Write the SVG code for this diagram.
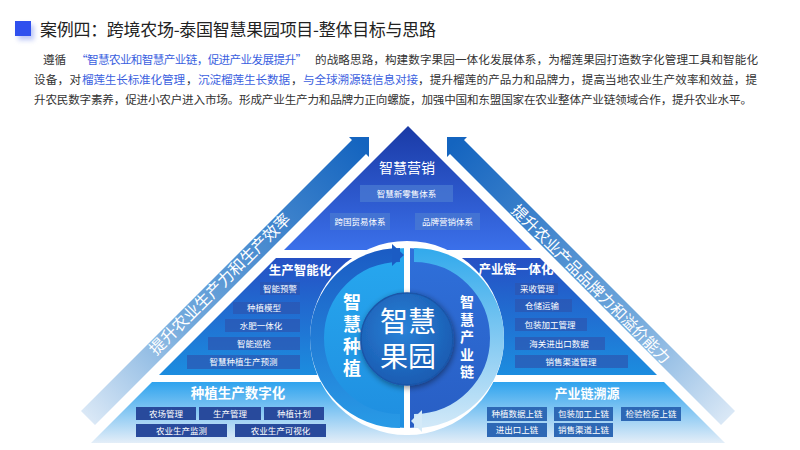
<svg xmlns="http://www.w3.org/2000/svg" width="800" height="450" viewBox="0 0 800 450">
<defs>
<style>
text{font-family:'Noto Sans CJK SC','Noto Sans',sans-serif;}
.p{font-size:11.6px;fill:#333;}
.pb{font-size:11.6px;fill:#3b5fe0;}
.bx{font-size:8.5px;fill:#fff;text-anchor:middle;}
.ttl{fill:#fff;font-weight:bold;text-anchor:middle;}
.vt{fill:#fff;font-weight:bold;text-anchor:middle;}
.boxT{fill:#4a7ad2;fill-opacity:0.75;}
.boxM{fill:#2c56b0;fill-opacity:0.7;}
.boxBL{fill:#284a9c;}
.boxBR{fill:#2d68b5;}
</style>
<linearGradient id="gTop" gradientUnits="userSpaceOnUse" x1="0" y1="126" x2="0" y2="250"><stop offset="0" stop-color="#1a3aa6"/><stop offset="1" stop-color="#3b70ea"/></linearGradient>
<linearGradient id="gMid" gradientUnits="userSpaceOnUse" x1="0" y1="258" x2="0" y2="375"><stop offset="0" stop-color="#2550c4"/><stop offset="1" stop-color="#1c8ddf"/></linearGradient>
<linearGradient id="gBot" gradientUnits="userSpaceOnUse" x1="0" y1="382" x2="0" y2="443"><stop offset="0" stop-color="#2ea3ee"/><stop offset="1" stop-color="#e4eef8"/></linearGradient>
<linearGradient id="gArr" gradientUnits="userSpaceOnUse" x1="88" y1="418" x2="365" y2="145"><stop offset="0" stop-color="#dae8f6"/><stop offset="0.35" stop-color="#72a9dc"/><stop offset="1" stop-color="#1464bf"/></linearGradient>
<linearGradient id="gLD" gradientUnits="userSpaceOnUse" x1="0" y1="248" x2="0" y2="428"><stop offset="0" stop-color="#27a8ef"/><stop offset="1" stop-color="#1f8ee0"/></linearGradient>
<linearGradient id="gRD" gradientUnits="userSpaceOnUse" x1="0" y1="248" x2="0" y2="428"><stop offset="0" stop-color="#2f70da"/><stop offset="1" stop-color="#285ec4"/></linearGradient>
<linearGradient id="gLA" gradientUnits="userSpaceOnUse" x1="0" y1="250" x2="0" y2="425"><stop offset="0" stop-color="#1b5cc4"/><stop offset="1" stop-color="#289ae6"/></linearGradient>
<linearGradient id="gRA" gradientUnits="userSpaceOnUse" x1="0" y1="250" x2="0" y2="425"><stop offset="0" stop-color="#33aaec"/><stop offset="1" stop-color="#d0e8f8"/></linearGradient>
<radialGradient id="gC" cx="0.45" cy="0.4" r="0.6"><stop offset="0" stop-color="#2a82d8"/><stop offset="1" stop-color="#1a5cb2"/></radialGradient>
<filter id="sh" x="-30%" y="-30%" width="160%" height="160%"><feGaussianBlur in="SourceAlpha" stdDeviation="3"/><feOffset dx="1" dy="2"/><feComponentTransfer><feFuncA type="linear" slope="0.45"/></feComponentTransfer><feMerge><feMergeNode/><feMergeNode in="SourceGraphic"/></feMerge></filter>
<filter id="shB" x="-50%" y="-50%" width="250%" height="250%"><feGaussianBlur in="SourceGraphic" stdDeviation="2.5"/></filter>
</defs>
<rect width="800" height="450" fill="#fff"/>

<g id="header">
<rect x="18" y="25" width="16" height="15" fill="#8fa0f0" opacity="0.6" filter="url(#shB)"/>
<rect x="15" y="21" width="16" height="15" fill="#2f50ee"/>
<text x="40" y="36" font-size="17" fill="#222" textLength="396">案例四：跨境农场-泰国智慧果园项目-整体目标与思路</text>
</g>

<g id="paragraph">
<text class="p" x="43" y="64">遵循</text>
<text class="pb" x="76" y="64" textLength="231">“智慧农业和智慧产业链，促进产业发展提升”</text>
<text class="p" x="315" y="64" textLength="443">的战略思路，构建数字果园一体化发展体系，为榴莲果园打造数字化管理工具和智能化</text>
<text class="p" x="34" y="84" textLength="47">设备，对</text>
<text class="pb" x="82" y="84" textLength="103">榴莲生长标准化管理</text>
<text class="p" x="186" y="84">，</text>
<text class="pb" x="198" y="84" textLength="92">沉淀榴莲生长数据</text>
<text class="p" x="291" y="84">，</text>
<text class="pb" x="303" y="84" textLength="115">与全球溯源链信息对接</text>
<text class="p" x="418" y="84" textLength="339">，提升榴莲的产品力和品牌力，提高当地农业生产效率和效益，提</text>
<text class="p" x="34" y="104" textLength="718">升农民数字素养，促进小农户进入市场。形成产业生产力和品牌力正向螺旋，加强中国和东盟国家在农业整体产业链领域合作，提升农业水平。</text>
</g>

<g id="connectors">
<g id="arrow-left">
<polygon points="81,411 352,140 349,137 369,137 369,157 366,154 95,425" fill="url(#gArr)"/>
<text x="0" y="0" font-size="16" fill="#fff" text-anchor="middle" transform="translate(224,288) rotate(-45)">提升农业生产力和生产效率</text>
</g>
<g id="arrow-right">
<polygon points="81,411 352,140 349,137 369,137 369,157 366,154 95,425" fill="url(#gArr)" transform="translate(816,0) scale(-1,1)"/>
<text x="0" y="0" font-size="15.5" fill="#fff" text-anchor="middle" transform="translate(587,288) rotate(45)">提升农业产品品牌力和溢价能力</text>
</g>
</g>

<g id="marketing">
<polygon points="408,126 284,250 532,250" fill="url(#gTop)"/>
<text x="407" y="173" font-size="14" fill="#fff" text-anchor="middle">智慧营销</text>
<rect class="boxT" x="360" y="185" width="93" height="17"/>
<text class="bx" x="406.5" y="196.5">智慧新零售体系</text>
<rect class="boxT" x="330" y="213" width="60" height="17"/>
<text class="bx" x="360" y="224.5">跨国贸易体系</text>
<rect class="boxT" x="415" y="213" width="65" height="17"/>
<text class="bx" x="447.5" y="224.5">品牌营销体系</text>
</g>

<g id="production-intelligence">
<polygon points="276,258 407,258 407,375 159,375" fill="url(#gMid)"/>
<text class="ttl" x="300" y="275" font-size="12.5">生产智能化</text>
<rect class="boxM" x="260" y="282" width="40" height="13"/>
<text class="bx" x="280" y="291.5">智能预警</text>
<rect class="boxM" x="233" y="302" width="67" height="12"/>
<text class="bx" x="264" y="311">种植模型</text>
<rect class="boxM" x="225" y="319" width="75" height="13"/>
<text class="bx" x="261" y="328.5">水肥一体化</text>
<rect class="boxM" x="208" y="337" width="92" height="13"/>
<text class="bx" x="254" y="346.5">智能巡检</text>
<rect class="boxM" x="187" y="355" width="113" height="14"/>
<text class="bx" x="243.5" y="365">智慧种植生产预测</text>
</g>

<g id="chain-integration">
<polygon points="407,258 540,258 657,375 407,375" fill="url(#gMid)"/>
<text class="ttl" x="516" y="274" font-size="12.5">产业链一体化</text>
<rect class="boxM" x="515" y="283" width="43" height="12"/>
<text class="bx" x="537" y="292">采收管理</text>
<rect class="boxM" x="515" y="299" width="57" height="13"/>
<text class="bx" x="542" y="308.5">仓储运输</text>
<rect class="boxM" x="515" y="318" width="72" height="13"/>
<text class="bx" x="550" y="327.5">包装加工管理</text>
<rect class="boxM" x="515" y="337" width="90" height="13"/>
<text class="bx" x="559" y="346.5">海关进出口数据</text>
<rect class="boxM" x="515" y="355" width="113" height="13"/>
<text class="bx" x="571" y="364.5">销售渠道管理</text>
</g>

<g id="planting-digital">
<polygon points="152,382 407,382 407,443 91,443" fill="url(#gBot)"/>
<text class="ttl" x="238" y="398" font-size="13.5">种植生产数字化</text>
<rect class="boxBL" x="136" y="407" width="60" height="13"/>
<text class="bx" x="166" y="416.5">农场管理</text>
<rect class="boxBL" x="199" y="407" width="62" height="13"/>
<text class="bx" x="230" y="416.5">生产管理</text>
<rect class="boxBL" x="264" y="407" width="60" height="13"/>
<text class="bx" x="294" y="416.5">种植计划</text>
<rect class="boxBL" x="136" y="424" width="91" height="13"/>
<text class="bx" x="181.5" y="433.5">农业生产监测</text>
<rect class="boxBL" x="235" y="424" width="91" height="13"/>
<text class="bx" x="280.5" y="433.5">农业生产可视化</text>
</g>

<g id="chain-traceability">
<polygon points="407,382 664,382 725,443 407,443" fill="url(#gBot)"/>
<text class="ttl" x="587" y="398" font-size="13">产业链溯源</text>
<rect class="boxBR" x="487" y="407" width="60" height="14"/>
<text class="bx" x="517" y="417">种植数据上链</text>
<rect class="boxBR" x="554" y="407" width="59" height="14"/>
<text class="bx" x="583.5" y="417">包装加工上链</text>
<rect class="boxBR" x="621" y="407" width="60" height="14"/>
<text class="bx" x="651" y="417">检验检疫上链</text>
<rect class="boxBR" x="487" y="423" width="60" height="14"/>
<text class="bx" x="517" y="433">进出口上链</text>
<rect class="boxBR" x="554" y="423" width="59" height="14"/>
<text class="bx" x="583.5" y="433">销售渠道上链</text>
</g>

<g id="cycle">
<circle cx="407" cy="338" r="97" fill="#fff"/>
<path d="M407,248 A90,90 0 0,0 407,428 Z" fill="url(#gLD)"/>
<path d="M407,248 A90,90 0 0,1 407,428 Z" fill="url(#gRD)"/>
<path d="M400,421 A83,83 0 0,1 400,255" fill="none" stroke="url(#gLA)" stroke-width="14"/>
<path d="M414,255 A83,83 0 0,1 414,421" fill="none" stroke="url(#gRA)" stroke-width="14"/>
<rect x="404" y="243" width="6" height="192" fill="#fff"/>
<polygon points="392,244 404,255 392,266" fill="#1b5cc4"/>
<polygon points="422,410 411,421 422,432" fill="#d4eaf8"/>
</g>

<g id="smart-planting">
<text class="vt" font-size="18"><tspan x="352" y="309">智</tspan><tspan x="352" y="331">慧</tspan><tspan x="352" y="353">种</tspan><tspan x="352" y="375">植</tspan></text>
</g>

<g id="smart-chain">
<text class="vt" font-size="14"><tspan x="467" y="307">智</tspan><tspan x="467" y="324.5">慧</tspan><tspan x="467" y="342">产</tspan><tspan x="467" y="359.5">业</tspan><tspan x="467" y="377">链</tspan></text>
</g>

<g id="smart-orchard">
<circle cx="407" cy="339" r="46" fill="url(#gC)" stroke="#1a55a8" stroke-width="1.5" filter="url(#sh)"/>
<text x="408" y="332" font-size="28" fill="#fff" text-anchor="middle">智慧</text>
<text x="408" y="367" font-size="28" fill="#fff" text-anchor="middle">果园</text>
</g>
</svg>
